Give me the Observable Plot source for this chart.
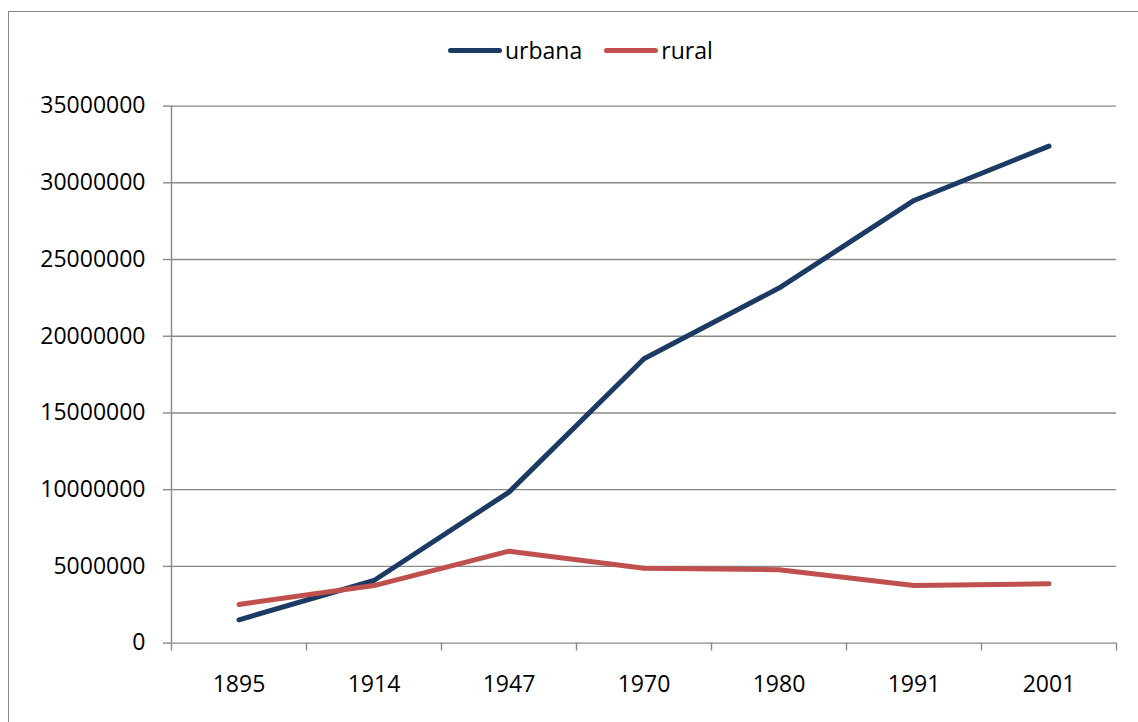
<!DOCTYPE html>
<html>
<head>
<meta charset="utf-8">
<script src="https://cdn.jsdelivr.net/npm/d3@7"></script>
<script src="https://cdn.jsdelivr.net/npm/@observablehq/plot@0.6"></script>
<style>
  html, body { margin: 0; padding: 0; background: #fff; overflow: hidden; }
  #wrap { position: relative; width: 1138px; height: 722px; overflow: hidden; font-family: "Open Sans", sans-serif; }
  #frame { position: absolute; left: 8px; top: 11px; width: 1200px; height: 800px; border: 1.5px solid #878787; box-sizing: border-box; }
  #chart { position: absolute; left: 0; top: 0; }
  #legend { position: absolute; top: 34px; left: 448px; display: flex; align-items: center; font-size: 23px; color: #000; }
  .item { display: flex; align-items: center; margin-right: 22px; }
  .sw { width: 54px; height: 5px; border-radius: 3px; margin-right: 3px; }
</style>
</head>
<body>
<div id="wrap">
  <div id="frame"></div>
  <div id="chart"></div>
  <div id="legend"></div>
</div>
<script>
const years = ["1895", "1914", "1947", "1970", "1980", "1991", "2001"];
const urbana = [1520000, 4080000, 9840000, 18530000, 23140000, 28850000, 32390000];
const rural = [2520000, 3750000, 5990000, 4880000, 4780000, 3750000, 3870000];
const seriesNames = ["urbana", "rural"];
const seriesColors = ["#1B3A64", "#C0504D"];
const yTicks = [0, 5000000, 10000000, 15000000, 20000000, 25000000, 30000000, 35000000];

const rows = [];
[urbana, rural].forEach((vals, s) => vals.forEach((v, i) => rows.push({series: seriesNames[s], i, value: v})));
const idx = years.map((_, i) => i);
const bounds = d3.range(years.length + 1).map(i => i - 0.5);
const gray = "#898989";

const chart = Plot.plot({
  width: 1138,
  height: 722,
  marginLeft: 171,
  marginRight: 22,
  marginTop: 105.6,
  marginBottom: 79.4,
  style: {fontFamily: "'Open Sans', sans-serif", fontSize: "23px", color: "#000", background: "transparent"},
  x: {type: "linear", domain: [-0.5, years.length - 0.5], axis: null, label: null},
  y: {domain: [0, 35000000], axis: null, label: null},
  color: {domain: seriesNames, range: seriesColors},
  marks: [
    Plot.gridY(yTicks, {stroke: gray, strokeOpacity: 1, strokeWidth: 1.4}),
    Plot.ruleX([-0.5], {stroke: gray, strokeWidth: 1.4}),
    Plot.axisY(yTicks, {label: null, tickSize: 8, tickPadding: 18, stroke: gray, strokeWidth: 1.4, tickFormat: d => String(d), fill: "#000", fontSize: 23}),
    Plot.axisX(bounds, {label: null, tickSize: 8, stroke: gray, strokeWidth: 1.4, tickFormat: () => ""}),
    Plot.axisX(idx, {label: null, tickSize: 0, tickPadding: 33, tickFormat: i => years[i], fill: "#000", fontSize: 23}),
    Plot.line(rows, {x: "i", y: "value", z: "series", stroke: "series", strokeWidth: 5, strokeLinecap: "round", strokeLinejoin: "round"})
  ]
});
document.getElementById("chart").appendChild(chart);

const legend = document.getElementById("legend");
seriesNames.forEach((name, s) => {
  const item = document.createElement("div");
  item.className = "item";
  const sw = document.createElement("div");
  sw.className = "sw";
  sw.style.background = seriesColors[s];
  const t = document.createElement("span");
  t.textContent = name;
  item.appendChild(sw);
  item.appendChild(t);
  legend.appendChild(item);
});
</script>
</body>
</html>
